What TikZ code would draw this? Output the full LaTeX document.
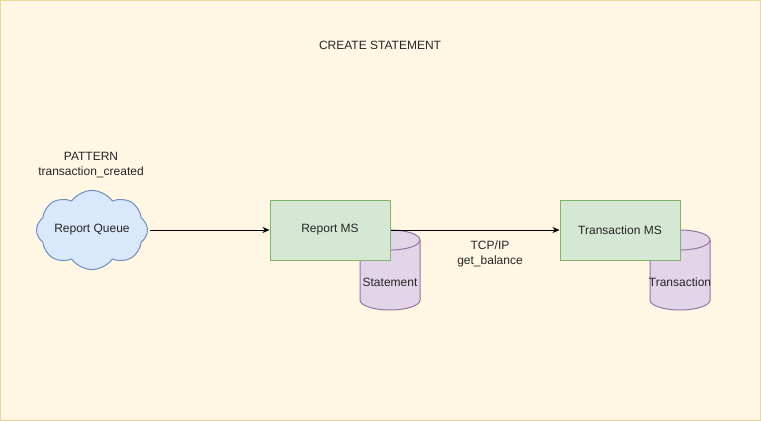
\documentclass[tikz,border=0pt]{standalone}
\usepackage{fontspec}
\setmainfont{Liberation Sans}
\usetikzlibrary{shapes.symbols,arrows.meta}
\definecolor{bgfill}{HTML}{FFF7E4}
\definecolor{bgline}{HTML}{E8D69A}
\definecolor{msfill}{HTML}{D5E8D4}
\definecolor{msline}{HTML}{82B366}
\definecolor{dbfill}{HTML}{E1D5E7}
\definecolor{dbline}{HTML}{9673A6}
\definecolor{qfill}{HTML}{DAE8FC}
\definecolor{qline}{HTML}{6C8EBF}
\tikzset{
  txt/.style={font=\fontsize{12}{14}\selectfont, text=black!85, inner sep=0pt},
  msbox/.style={draw=msline, fill=msfill, line width=1pt, minimum width=120pt, minimum height=60pt, txt},
  dbshape/.style={draw=dbline, fill=dbfill, line width=1pt},
  conn/.style={line width=1pt, -{Stealth[length=7pt,width=6pt]}}
}
\begin{document}
\begin{tikzpicture}[x=1pt,y=1pt]
\useasboundingbox (0,0) rectangle (761,-421);
\draw[draw=bgline, fill=bgfill, line width=1.2pt] (0.6,-0.6) rectangle (760.4,-420.4);
\node[txt] (title) at (380,-45) {CREATE STATEMENT};
\node[txt, align=center] (pattern) at (91,-165) {PATTERN\\[1pt]transaction\_created};
\node[cloud, cloud puffs=8, cloud puff arc=110, aspect=1.7, draw=qline, fill=qfill, line width=1pt, minimum width=110pt, minimum height=64pt, txt] (queue) at (92,-230) {Report Queue};
% Statement cylinder
\draw[dbshape] (360,-240) -- (360,-300) arc (180:360:30 and 10) -- (420,-240) arc (0:180:30 and 10) -- cycle;
\draw[dbshape, fill=none] (360,-240) arc (180:360:30 and 10);
\node[txt] (stmt) at (390,-282) {Statement};
% Transaction cylinder
\draw[dbshape] (650,-240) -- (650,-300) arc (180:360:30 and 10) -- (710,-240) arc (0:180:30 and 10) -- cycle;
\draw[dbshape, fill=none] (650,-240) arc (180:360:30 and 10);
\node[txt] (trdb) at (680,-282) {Transaction};
\node[msbox] (report) at (330,-230) {Report MS};
\node[msbox] (trans) at (620,-230) {Transaction MS};
\coordinate (qe) at (150,-230);
\draw[conn] (qe) -- (report.west);
\draw[conn] (report.east) -- (trans.west);
\node[txt, align=center] (lbl) at (490,-254) {TCP/IP\\[1pt]get\_balance};
\end{tikzpicture}
\end{document}
